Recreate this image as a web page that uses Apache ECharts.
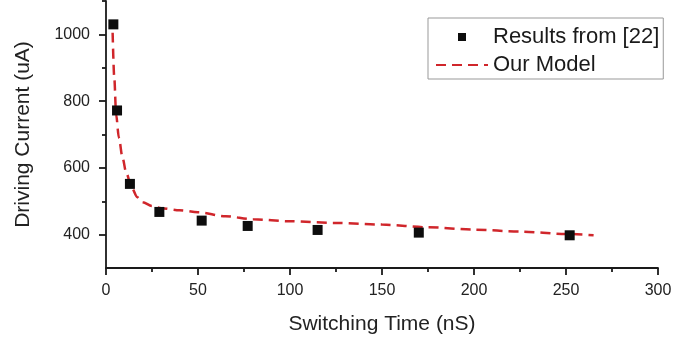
<!DOCTYPE html>
<html>
<head>
<meta charset="utf-8">
<title>Driving Current vs Switching Time</title>
<script src="https://cdn.jsdelivr.net/npm/echarts@6/dist/echarts.min.js"></script>
<style>
  html, body { margin: 0; padding: 0; background: #fff; }
  #chart { width: 698px; height: 345px; }
</style>
</head>
<body>
<div id="chart"></div>
<script>
// measured points (Results from [22])
var refTime = [4, 6, 13, 29, 52, 77, 115, 170, 252];
var refCurrent = [1030, 772, 552, 468, 442, 426, 414, 406, 398];

// model curve
var modelTime = [3.6, 4.5, 5.5, 7, 9, 11, 14, 17, 20, 25, 30, 40, 50, 65, 80, 100, 125, 150, 175, 200, 225, 250, 265];
var modelCurrent = [1005, 870, 760, 690, 630, 585, 540, 512, 497, 486, 479, 473, 467, 455, 446, 440, 435, 430, 422, 415, 409, 402, 398];

var yMajorTicks = [400, 600, 800, 1000];
var yMinorTicks = [500, 700, 900, 1100];

var chart = echarts.init(document.getElementById('chart'));

var refData = refTime.map(function (t, i) { return [t, refCurrent[i]]; });
var modelData = modelTime.map(function (t, i) { return [t, modelCurrent[i]]; });

var font = 'Liberation Sans, Arial, sans-serif';
var ink = '#1a1a1a';

var option = {
    animation: false,
    grid: { left: 106, right: 40, top: 1, bottom: 77 },
    legend: {
        orient: 'vertical',
        left: 428,
        top: 18,
        padding: [8, 4, 3, 7],
        itemGap: 6,
        itemWidth: 52,
        itemHeight: 8,
        symbolKeepAspect: true,
        borderColor: '#999',
        borderWidth: 1,
        textStyle: { fontFamily: font, fontSize: 22, lineHeight: 22, color: ink },
        data: [
            { name: 'Results from [22]', icon: 'path://M0,0L10,0L10,10L0,10Z' },
            { name: 'Our Model', itemStyle: { opacity: 0 } }
        ]
    },
    xAxis: {
        type: 'value',
        min: 0,
        max: 300,
        interval: 50,
        name: 'Switching Time (nS)',
        nameLocation: 'middle',
        nameGap: 46,
        nameTextStyle: { fontFamily: font, fontSize: 21, color: '#222' },
        axisLine: { lineStyle: { color: ink, width: 1.8 } },
        axisTick: { length: 7, lineStyle: { color: ink, width: 1.8 } },
        minorTick: { show: true, splitNumber: 2, length: 4, lineStyle: { color: ink, width: 1.8 } },
        axisLabel: { fontFamily: font, fontSize: 16, color: '#222', margin: 15 },
        splitLine: { show: false }
    },
    yAxis: [
        {
            type: 'value',
            min: 300,
            max: 1100,
            interval: 100,
            position: 'left',
            name: 'Driving Current (uA)',
            nameLocation: 'middle',
            nameGap: 72,
            nameTextStyle: { fontFamily: font, fontSize: 21, color: '#222' },
            axisLine: { show: true, lineStyle: { color: ink, width: 1.8 } },
            axisTick: { show: true, length: 7, customValues: yMajorTicks, lineStyle: { color: ink, width: 1.8 } },
            axisLabel: {
                fontFamily: font, fontSize: 16, color: '#222', margin: 16,
                customValues: yMajorTicks,
                formatter: function (v) { return String(v); }
            },
            splitLine: { show: false }
        },
        {
            type: 'value',
            min: 300,
            max: 1100,
            interval: 100,
            position: 'left',
            axisLine: { show: false },
            axisTick: { show: true, length: 4, customValues: yMinorTicks, lineStyle: { color: ink, width: 1.8 } },
            axisLabel: { show: false },
            splitLine: { show: false }
        }
    ],
    series: [
        {
            name: 'Our Model',
            type: 'line',
            data: modelData,
            smooth: 0.3,
            smoothMonotone: 'x',
            symbol: 'none',
            z: 2,
            lineStyle: { color: '#d0262b', width: 2.5, type: [10, 6] },
            itemStyle: { color: '#d0262b' }
        },
        {
            name: 'Results from [22]',
            type: 'scatter',
            data: refData,
            symbol: 'rect',
            symbolSize: 10,
            z: 3,
            itemStyle: { color: '#0d0d0d', opacity: 1 }
        }
    ]
};

chart.setOption(option);
</script>
</body>
</html>
